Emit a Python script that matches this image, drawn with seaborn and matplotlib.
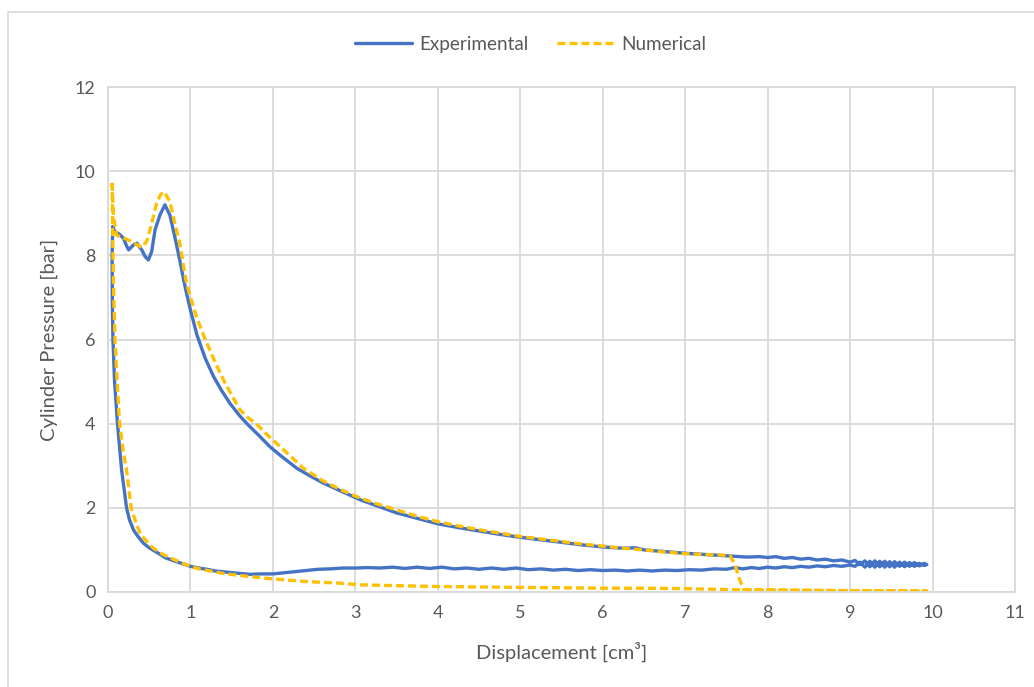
import seaborn as sns
import pandas as pd
import matplotlib.pyplot as plt
from matplotlib.patches import Rectangle

# Experimental loop (upper branch left->right, then lower branch right->left)
exp_x = [0.057, 0.085, 0.14, 0.19, 0.22, 0.25, 0.31, 0.35, 0.38, 0.41, 0.45, 0.49, 0.53, 0.57, 0.63,
         0.69, 0.75, 0.81, 0.87, 0.91, 0.95, 1.0, 1.08, 1.18, 1.28, 1.38, 1.48, 1.6, 1.7, 1.83,
         1.965, 2.1, 2.29, 2.45, 2.6, 2.8, 3.06, 3.3, 3.5, 3.75, 4.0, 4.25, 4.5, 4.75, 5.0,
         5.25, 5.5, 5.75, 6.0, 6.25, 6.4, 6.5, 6.75, 7.0, 7.25, 7.5, 7.75, 7.9, 8.0, 8.1,
         8.2, 8.3, 8.4, 8.5, 8.6, 8.7, 8.8, 8.9, 9.0, 9.06, 9.12, 9.18, 9.24, 9.3, 9.36,
         9.42, 9.48, 9.54, 9.6, 9.66, 9.72, 9.78, 9.84, 9.9, 9.93,
         9.9, 9.84, 9.78, 9.72, 9.66, 9.6, 9.54, 9.48, 9.42, 9.36, 9.3, 9.24, 9.18, 9.12, 9.06,
         9.0, 8.9, 8.8, 8.7, 8.6, 8.5, 8.4, 8.3, 8.2, 8.1, 8.0, 7.9, 7.8, 7.7, 7.6,
         7.5, 7.35, 7.2, 7.05, 6.9, 6.75, 6.6, 6.45, 6.3, 6.15, 6.0, 5.85, 5.7, 5.55, 5.4,
         5.25, 5.1, 4.95, 4.8, 4.65, 4.5, 4.35, 4.2, 4.05, 3.9, 3.75, 3.6, 3.45, 3.3, 3.15,
         3.0, 2.85, 2.7, 2.55, 2.4, 2.25, 2.1, 2.0, 1.85, 1.72, 1.55, 1.4, 1.3, 1.2, 1.1,
         1.0, 0.83, 0.7, 0.61, 0.5, 0.43, 0.36, 0.31, 0.26, 0.225, 0.165, 0.115, 0.08,
         0.06, 0.052, 0.05, 0.057]
exp_y = [8.68, 8.56, 8.5, 8.4, 8.25, 8.13, 8.25, 8.29, 8.2, 8.13, 7.97, 7.89, 8.09, 8.6, 8.96,
         9.2, 8.96, 8.44, 7.89, 7.49, 7.12, 6.7, 6.1, 5.55, 5.12, 4.78, 4.48, 4.18, 3.97, 3.72,
         3.45, 3.23, 2.94, 2.76, 2.6, 2.42, 2.19, 2.02, 1.88, 1.75, 1.62, 1.53, 1.45, 1.37, 1.3,
         1.24, 1.18, 1.12, 1.07, 1.04, 1.05, 1.0, 0.96, 0.92, 0.89, 0.86, 0.83, 0.84, 0.82, 0.84,
         0.8, 0.82, 0.78, 0.8, 0.76, 0.78, 0.74, 0.76, 0.71, 0.75, 0.65, 0.74, 0.6, 0.74, 0.6,
         0.73, 0.6, 0.72, 0.61, 0.71, 0.61, 0.7, 0.62, 0.68, 0.65,
         0.63, 0.68, 0.61, 0.7, 0.6, 0.71, 0.59, 0.72, 0.59, 0.73, 0.59, 0.73, 0.59, 0.71, 0.61,
         0.64, 0.61, 0.63, 0.6, 0.62, 0.59, 0.61, 0.58, 0.6, 0.57, 0.59, 0.56, 0.58, 0.55, 0.58,
         0.54, 0.55, 0.52, 0.53, 0.51, 0.52, 0.5, 0.52, 0.5, 0.52, 0.51, 0.53, 0.51, 0.54, 0.52,
         0.55, 0.53, 0.57, 0.54, 0.57, 0.54, 0.57, 0.55, 0.59, 0.56, 0.59, 0.56, 0.59, 0.57, 0.58,
         0.57, 0.57, 0.55, 0.54, 0.51, 0.48, 0.45, 0.43, 0.43, 0.42, 0.45, 0.48, 0.5, 0.54, 0.57,
         0.61, 0.72, 0.81, 0.92, 1.05, 1.16, 1.33, 1.47, 1.72, 2.0, 2.9, 4.0, 5.0,
         6.0, 7.0, 8.0, 8.68]

# Numerical loop
num_x = [0.05, 0.065, 0.105, 0.16, 0.23, 0.29, 0.35, 0.41, 0.47, 0.53, 0.59, 0.64, 0.68, 0.75, 0.81,
         0.87, 0.93, 0.954, 1.0, 1.08, 1.18, 1.29, 1.4, 1.5, 1.6, 1.7, 1.8, 1.95, 2.09, 2.2,
         2.37, 2.6, 2.8, 3.06, 3.3, 3.5, 3.75, 4.0, 4.25, 4.5, 4.75, 5.0, 5.25, 5.5, 5.75,
         6.0, 6.25, 6.5, 6.75, 7.0, 7.25, 7.54, 7.6, 7.65, 7.71, 8.5, 9.2, 9.93,
         9.93, 9.0, 8.2, 7.71, 7.0, 6.5, 6.0, 5.5, 5.0, 4.5, 4.0, 3.5, 3.06, 2.81, 2.4,
         2.0, 1.7, 1.4, 1.08, 0.92, 0.79, 0.66, 0.55, 0.47, 0.39, 0.33, 0.28, 0.225, 0.18, 0.14,
         0.11, 0.085, 0.07, 0.06, 0.055, 0.05]
num_y = [9.72, 8.92, 8.48, 8.43, 8.38, 8.32, 8.25, 8.19, 8.33, 8.76, 9.24, 9.45, 9.51, 9.28, 8.76,
         8.29, 7.57, 7.34, 7.0, 6.5, 6.0, 5.5, 5.04, 4.68, 4.33, 4.14, 3.99, 3.7, 3.45, 3.25,
         2.94, 2.65, 2.45, 2.23, 2.07, 1.95, 1.8, 1.67, 1.57, 1.48, 1.4, 1.32, 1.26, 1.2, 1.14,
         1.09, 1.04, 1.0, 0.95, 0.91, 0.89, 0.87, 0.68, 0.35, 0.05, 0.04, 0.03, 0.03,
         0.02, 0.03, 0.04, 0.05, 0.08, 0.09, 0.09, 0.1, 0.11, 0.12, 0.13, 0.15, 0.17, 0.21, 0.25,
         0.31, 0.37, 0.44, 0.56, 0.67, 0.78, 0.9, 1.04, 1.2, 1.39, 1.7, 2.0, 2.9, 3.4, 4.0,
         5.0, 6.0, 7.0, 8.0, 9.0, 9.72]

x_ticks = list(range(0, 12))
y_ticks = [0, 2, 4, 6, 8, 10, 12]

exp_df = pd.DataFrame({"Displacement": exp_x, "Pressure": exp_y})
num_df = pd.DataFrame({"Displacement": num_x, "Pressure": num_y})

sns.set_style("white")
plt.rcParams["font.family"] = ["Lato", "DejaVu Sans"]

fig = plt.figure(figsize=(10.34, 6.87), dpi=100)
ax = fig.add_axes([108 / 1034, 1 - 592 / 687, (1015 - 108) / 1034, (592 - 87) / 687])

# chart area border (left and top edges visible)
fig.patches.append(Rectangle((8 / 1034, -0.1), 1.2, 1 - 12 / 687 + 0.1, transform=fig.transFigure,
                             fill=False, edgecolor="#d9d9d9", linewidth=1.2))

sns.lineplot(data=exp_df, x="Displacement", y="Pressure", sort=False, estimator=None,
             color="#4472C4", linewidth=2.4, label="Experimental", ax=ax)
sns.lineplot(data=num_df, x="Displacement", y="Pressure", sort=False, estimator=None,
             color="#FFC000", linewidth=2.4, label="Numerical", ax=ax)
ax.lines[1].set_dashes((2.4, 1.2))

ax.set_xlim(0, 11)
ax.set_ylim(0, 12)
ax.set_xticks(x_ticks)
ax.set_yticks(y_ticks)
ax.grid(True, color="#d9d9d9", linewidth=1.3)
for s in ax.spines.values():
    s.set_color("#d9d9d9")
    s.set_linewidth(1.3)
ax.tick_params(axis="both", length=0, labelsize=13, labelcolor="#595959", pad=9)

ax.set_xlabel("Displacement [cm³]", fontsize=14.5, color="#595959", labelpad=15)
ax.set_ylabel("Cylinder Pressure [bar]", fontsize=14.5, color="#595959", labelpad=12)

leg = ax.legend(loc="center", bbox_to_anchor=(0.466, 1.085), ncol=2, frameon=False,
                fontsize=13.6, handlelength=3.0, columnspacing=1.5, handletextpad=0.4)
for t in leg.get_texts():
    t.set_color("#595959")
for h in leg.get_lines():
    h.set_linewidth(2.4)

fig.savefig("out.png", dpi=100)
